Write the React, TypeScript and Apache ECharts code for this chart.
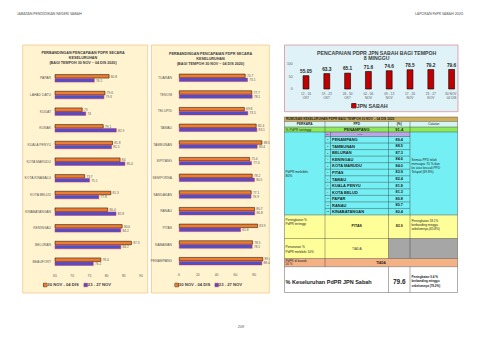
import React, { useEffect, useRef } from "react";
import * as echarts from "echarts";

const headerLeft = "JABATAN PENDIDIKAN NEGERI SABAH";
const headerRight = "LAPORAN PdPR SABAH 2020";
const pageNo = "209";

const weekNow = "30 NOV - 04 DIS";
const weekPrev = "23 - 27 NOV";
const panelTitle = "PERBANDINGAN PENCAPAIAN PDPR SECARA\nKESELURUHAN\n(BAGI TEMPOH 30 NOV – 04 DIS 2020)";

const ppdA = ["PAPAR", "LAHAD DATU", "KUDAT", "KUNAK", "KUALA PENYU", "KOTA MARUDU", "KOTA KINABALU", "KOTA BELUD", "KINABATANGAN", "KENINGAU", "BELURAN", "BEAUFORT"];
const ppdA_now = [80.8, 79.6, 73, 79.1, 81.8, 84, 73.7, 81.3, 80.4, 84.6, 87.3, 78.4];
const ppdA_prev = [76.5, 79.3, 74, 82.9, 81.5, 85.4, 75.1, 77.8, 82.8, 84.2, 84.2, 76.2];

const ppdB = ["TUARAN", "TENOM", "TELUPID", "TAWAU", "TAMBUNAN", "SIPITANG", "SEMPORNA", "SANDAKAN", "RANAU", "PITAS", "NABAWAN", "PENAMPANG"];
const ppdB_now = [70.7, 77.7, 69.8, 82.4, 88.5, 75.4, 78.2, 77.1, 80.7, 83.9, 78.5, 89.4];
const ppdB_prev = [73.1, 78.1, 73.5, 83.1, 83.4, 77.4, 80.5, 76.9, 80.8, 65.8, 78.1, 88.4];

const trendTitle = "PENCAPAIAN PDPR JPN SABAH BAGI TEMPOH\n8 MINGGU";
const trendName = "JPN SABAH";
const trendWeeks = ["12 - 16\nOKT", "19 - 23\nOKT", "26 - 30\nOKT", "02 - 06\nNOV", "09 - 13\nNOV", "17 - 20\nNOV", "23 - 27\nNOV", "30 NOV -\n04 DIS"];
const trendValues = [55.05, 63.3, 65.1, 71.6, 74.6, 78.5, 79.2, 79.6];

const tableTitle = "RUMUSAN KESELURUHAN PDPR BAGI TEMPOH 30 NOV – 04 DIS 2020";
const tableHeads = ["PERKARA", "PPD", "(%)", "Catatan"];
const topPpd = "PENAMPANG";
const topPpdValue = "91.4";
const above80Names = ["PENAMPANG", "TAMBUNAN", "BELURAN", "KENINGAU", "KOTA MARUDU", "PITAS", "TAWAU", "KUALA PENYU", "KOTA BELUD", "PAPAR", "RANAU", "KINABATANGAN"];
const above80Values = ["89.4", "88.5", "87.3", "84.6", "84.0", "83.9", "82.4", "81.8", "81.3", "80.8", "80.7", "80.4"];
const above80Note = "Semua PPD telah\nmencapai 70 % dan\nke atas kecuali PPD\nTelupid (69.8%)";
const riseName = "PITAS";
const riseValue = "83.9";
const riseNote = "Peningkatan 18.1%\nberbanding minggu\nsebelumnya (65.8%)";
const overallValue = "79.6";
const overallNote = "Peningkatan 0.4 %\nberbanding minggu\nsebelumnya (79.2%)";

const FONT = "Liberation Sans";
const ORANGE = "#ED7D31";
const BLUE = "#4B52C8";
const BLUE_BORDER = "#E3245A";
const DARKRED = "#C00000";

export default function App() {
  const ref = useRef<HTMLDivElement>(null);
  useEffect(() => {
    document.body.style.margin = "0";
    const chart = echarts.init(ref.current!, undefined, { renderer: "svg" });
    const els: any[] = [];
    const rect = (x: number, y: number, w: number, h: number, fill: string, z = 1, stroke = "none", lw = 0) =>
      els.push({ type: "rect", z, silent: true, shape: { x, y, width: w, height: h }, style: { fill, stroke, lineWidth: lw } });
    const line = (x1: number, y1: number, x2: number, y2: number, stroke = "#333", lw = 0.4) =>
      els.push({ type: "line", z: 6, silent: true, shape: { x1, y1, x2, y2 }, style: { stroke, lineWidth: lw } });
    const text = (t: string, x: number, y: number, size: number, o: any = {}) =>
      els.push({
        type: "text", z: 8, silent: true,
        style: {
          text: t, x, y, fontSize: size, fontFamily: o.family || FONT, fontWeight: o.bold ? "bold" : "normal",
          fill: o.fill || "#222", textAlign: o.align || "left", textVerticalAlign: "middle", lineHeight: o.lh || size * 1.2,
        },
      });

    // page
    text(headerLeft, 17, 13, 3.6, { fill: "#555", family: "Lato" });
    text(headerRight, 463, 13, 3.6, { fill: "#555", align: "right", family: "Lato" });
    text(pageNo, 241, 326, 4, { fill: "#555", align: "center" });

    // panel boxes
    rect(22.7, 45, 125, 248, "#FFF3D0", -10, "#F5C78E", 0.8);
    rect(151.5, 45, 117.8, 248, "#FFF3D0", -10, "#F5C78E", 0.8);
    rect(270, 46, 13.5, 250, "#FFFFFF", 50);
    rect(284.5, 45, 173.5, 66.7, "#DEF2F7", -10, "#D9929A", 0.8);
    text(panelTitle, 83, 58.3, 3.7, { bold: true, align: "center", lh: 5, fill: "#404040" });
    text(panelTitle, 210.5, 58.8, 3.7, { bold: true, align: "center", lh: 5, fill: "#404040" });
    text(trendTitle, 376.7, 55.8, 5.2, { bold: true, align: "center", lh: 5, fill: "#404040" });

    // table
    const L = 284.5, C1 = 325, CB = 330.5, C2 = 388.5, C3 = 410, R = 457.5;
    const cx1 = (L + C1) / 2, cx2 = (C1 + C2) / 2, cx3 = (C2 + C3) / 2, cx4 = (C3 + R) / 2;
    const yT = 117, yH = 121.5, yG = 127, yP = 132, yL = 136.5, rowH = 6.54;
    const yY1 = yL + rowH * 12, yY2 = 238.5, yS = 258.5, yW = 266.7, yE = 292.5;
    rect(L, yT, R - L, yH - yT, "#CFAE55", 2);
    rect(L, yH, R - L, yG - yH, "#D6F3F6", 2);
    rect(L, yG, R - L, yP - yG, "#8DE85A", 2);
    rect(L, yP, R - L, yY1 - yP, "#74EFF3", 2);
    rect(C1, yP, C3 - C1, yL - yP, "#B9A6E2", 3);
    rect(L, yY1, R - L, yS - yY1, "#FFFF99", 2);
    rect(C2, yY2, R - C2, yS - yY2, "#A6A6A6", 3);
    rect(L, yS, R - L, yW - yS, "#F4B183", 2);
    rect(L, yW, R - L, yE - yW, "#FFFFFF", 2);
    [yT, yH, yG, yP, yY1, yY2, yS, yW, yE].forEach((y) => line(L, y, R, y));
    line(C1, yL, C3, yL);
    for (let i = 1; i < 12; i++) line(C1, yL + rowH * i, C3, yL + rowH * i);
    line(L, yT, L, yE);
    line(R, yT, R, yE);
    line(C1, yH, C1, yW);
    line(C2, yH, C2, yS);
    line(C3, yH, C3, yS);
    line(CB, yP, CB, yY1);
    line(C2, yW, C2, yE);
    line(C3, yW, C3, yE);
    text(tableTitle, 286, (yT + yH) / 2, 3.2, { bold: true });
    text(tableHeads[0], cx1, (yH + yG) / 2, 3.2, { bold: true, align: "center" });
    text(tableHeads[1], cx2, (yH + yG) / 2, 3.2, { bold: true, align: "center" });
    text(tableHeads[2], cx3, (yH + yG) / 2, 3.2, { bold: true, align: "center" });
    text(tableHeads[3], cx4, (yH + yG) / 2, 3.2, { align: "center" });
    text("% PdPR tertinggi", 285.5, (yG + yP) / 2, 3.4);
    text(topPpd, cx2, (yG + yP) / 2, 4, { bold: true, align: "center" });
    text(topPpdValue, cx3, (yG + yP) / 2, 4, { bold: true, align: "center" });
    text("Bil", 326, (yP + yL) / 2, 2.4, { fill: "#444" });
    text("PPD", 360, (yP + yL) / 2, 2.4, { fill: "#444", align: "center" });
    above80Names.forEach((n, i) => {
      const cy = yL + rowH * (i + 0.5);
      text(String(i + 1), (C1 + CB) / 2, cy, 2.4, { align: "center", fill: "#333" });
      text(n, 332, cy, 4, { bold: true });
      text(above80Values[i], cx3, cy, 3.8, { bold: true, align: "center" });
    });
    text("PdPR melebihi\n80%", 285.5, 173.7, 3.4, { lh: 4 });
    text(above80Note, 411.5, 166, 3.2, { lh: 4 });
    text("Peningkatan %\nPdPR tertinggi", 285.5, 221.7, 3.2, { lh: 3.6 });
    text(riseName, cx2, 225.7, 3.6, { bold: true, align: "center" });
    text(riseValue, cx3, 225.7, 3.6, { bold: true, align: "center" });
    text(riseNote, 411.5, 224.7, 3.1, { lh: 4 });
    text("Penurunan %\nPdPR melebihi 10%", 285.5, 249.2, 3.2, { lh: 4.5 });
    text("TIADA", cx2, 248.5, 3.3, { align: "center", fill: "#444" });
    text("PdPR di bawah\n50 %", 285.5, 262.2, 3.1, { lh: 3.8 });
    text("TIADA", 381, 262.6, 3.2, { bold: true, align: "center" });
    text("% Keseluruhan PdPR JPN Sabah", 285.5, 281.5, 5.5, { bold: true });
    text(overallValue, cx3, 281.5, 6.5, { bold: true, align: "center" });
    text(overallNote, 411.5, 281, 3, { bold: true, lh: 4.7 });

    const catAxis = (grid: number, data: string[], margin: number) => ({
      gridIndex: grid, type: "category", inverse: true, data,
      axisLabel: { fontSize: 3.4, color: "#595959", margin, fontFamily: FONT },
      axisLine: { show: false }, axisTick: { show: false }, splitLine: { show: false },
    });
    const valAxis = (grid: number, min: number, max: number, interval: number) => ({
      gridIndex: grid, type: "value", min, max, interval,
      axisLabel: { fontSize: 3.4, color: "#595959", margin: 4, fontFamily: FONT },
      axisLine: { show: false }, axisTick: { show: false }, splitLine: { show: false },
    });
    const barSeries = (grid: number, name: string, data: number[], color: string, border: string) => ({
      type: "bar", name, xAxisIndex: grid, yAxisIndex: grid, data, barWidth: 4, barGap: "0%",
      itemStyle: { color, borderColor: border, borderWidth: 0.5 },
      label: { show: true, position: "right", distance: 1.5, fontSize: 3.2, color: "#595959", fontFamily: FONT },
    });
    const legend = (left: number, centerY: number, name: string, color: string, border: string, size: number) => ({
      left: left - 5, top: centerY - size * 0.6, padding: 0, data: [name], icon: "none", itemWidth: 0, itemHeight: size * 1.2,
      selectedMode: false,
      formatter: (n: string) => `{a| }{t|${n}}`,
      textStyle: {
        fontSize: size, lineHeight: size * 1.2, fontFamily: FONT,
        rich: {
          a: { fontSize: 1, lineHeight: size * 0.8, width: size * 0.8, height: size * 0.8, backgroundColor: color, borderColor: border, borderWidth: 0.4 },
          t: { fontSize: size, lineHeight: size * 1.2, fontWeight: "bold", color: "#404040", fontFamily: FONT, padding: [0, 0, 0, 0.5] },
        },
      },
    });

    chart.setOption({
      animation: false,
      backgroundColor: "#FFFFFF",
      textStyle: { fontFamily: FONT },
      grid: [
        { left: 55, top: 70, width: 86, height: 200 },
        { left: 179, top: 69.5, width: 94, height: 200 },
        { left: 295.6, top: 64, width: 166.4, height: 25.3 },
      ],
      xAxis: [
        valAxis(0, 65, 90, 5),
        valAxis(1, 0, 100, 20),
        {
          gridIndex: 2, type: "category", data: trendWeeks,
          axisLabel: { fontSize: 3.2, lineHeight: 4, margin: 2, color: "#595959", interval: 0, fontFamily: FONT },
          axisLine: { show: false }, axisTick: { show: false },
        },
      ],
      yAxis: [
        catAxis(0, ppdA, 4),
        catAxis(1, ppdB, 7),
        { ...valAxis(2, 0, 100, 50), axisLabel: { fontSize: 3.4, color: "#595959", margin: 3, fontFamily: FONT } },
      ],
      legend: [
        legend(43.5, 285, weekNow, ORANGE, "#000", 4.2),
        legend(84, 285, weekPrev, BLUE, BLUE_BORDER, 4.2),
        legend(175, 285, weekNow, ORANGE, "#000", 4.2),
        legend(215, 285, weekPrev, BLUE, BLUE_BORDER, 4.2),
        legend(351.7, 105.7, trendName, DARKRED, "#000", 5.4),
      ],
      series: [
        barSeries(0, weekNow, ppdA_now, ORANGE, "#000"),
        barSeries(0, weekPrev, ppdA_prev, BLUE, BLUE_BORDER),
        barSeries(1, weekNow, ppdB_now, ORANGE, "#000"),
        barSeries(1, weekPrev, ppdB_prev, BLUE, BLUE_BORDER),
        {
          type: "bar", name: trendName, xAxisIndex: 2, yAxisIndex: 2, data: trendValues, barWidth: 6.5,
          itemStyle: { color: DARKRED, borderColor: "#000", borderWidth: 0.6 },
          label: { show: true, position: "top", distance: 1.5, fontSize: 4.8, fontWeight: "bold", color: "#262626", fontFamily: FONT },
        },
      ],
      graphic: { elements: els },
    });
    return () => chart.dispose();
  }, []);
  return <div ref={ref} style={{ width: 480, height: 339 }} />;
}
